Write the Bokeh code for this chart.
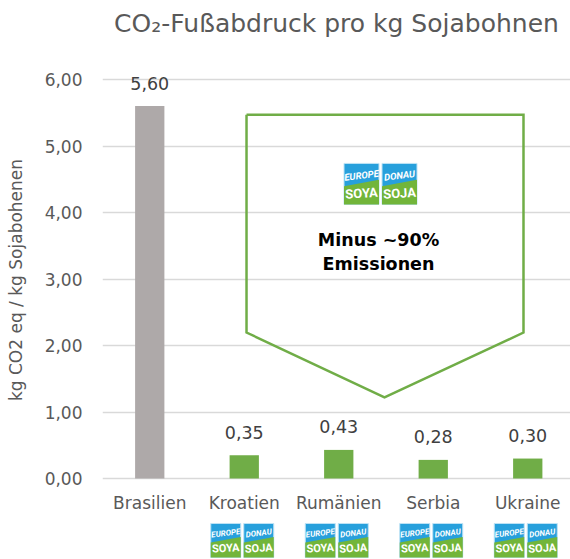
from bokeh.plotting import figure
from bokeh.models import Range1d, FixedTicker, CustomJSTickFormatter
from bokeh.core.properties import value
from bokeh.embed import file_html
from bokeh.resources import INLINE

# ---------------- data ----------------
categories = ["Brasilien", "Kroatien", "Rumänien", "Serbia", "Ukraine"]
footprint = [5.60, 0.35, 0.43, 0.28, 0.30]
bar_colors = ["#AEA9A9", "#70AD47", "#70AD47", "#70AD47", "#70AD47"]
y_ticks = [0, 1, 2, 3, 4, 5, 6]
title_text = "CO\u2082-Fußabdruck pro kg Sojabohnen"
y_label = "kg CO2 eq / kg Sojabohenen"
callout_text = "Minus ~90%\nEmissionen"
# callout arrow outline (category units, kg CO2 eq)
arrow_x = [1.524, 4.455, 4.455, 2.984, 1.524, 1.524]
arrow_y = [5.47, 5.47, 2.195, 1.22, 2.195, 5.47]
logo_words = [("EUROPE", "SOYA"), ("DONAU", "SOJA")]
logo_categories = ["Kroatien", "Rumänien", "Serbia", "Ukraine"]

# ---------------- layout ----------------
W, H = 570, 559
LEFT = 102
FRAME_W = W - LEFT
FRAME_H = H
X_END = FRAME_W / 94.5
Y_START, Y_END = -1.218, 7.188
XPX = X_END / FRAME_W
YPX = (Y_END - Y_START) / FRAME_H

FONT = value("DejaVu Sans")
GREY_TXT = "#595959"
BLUE = "#27A0DC"
GREEN = "#72B53A"
LOGO_FONT = value("Roboto")

xs = [i + 0.5 for i in range(len(categories))]

p = figure(width=W, height=H, x_range=Range1d(0, X_END), y_range=Range1d(Y_START, Y_END),
           output_backend="svg", toolbar_location=None, x_axis_location=None,
           min_border_left=LEFT, min_border_right=0, min_border_top=0, min_border_bottom=0)
p.outline_line_color = None
p.background_fill_color = "white"
p.xgrid.visible = False
p.ygrid.ticker = FixedTicker(ticks=y_ticks)
p.ygrid.grid_line_color = "#D9D9D9"
p.ygrid.grid_line_width = 1.3

ax = p.yaxis[0]
ax.ticker = FixedTicker(ticks=y_ticks)
ax.formatter = CustomJSTickFormatter(code="return tick.toFixed(2).replace('.', ',');")
ax.axis_line_color = None
ax.major_tick_line_color = None
ax.minor_tick_line_color = None
ax.major_tick_out = 0
ax.major_tick_in = 0
ax.minor_tick_out = 0
ax.minor_tick_in = 0
ax.major_label_standoff = 20
ax.major_label_text_font = "DejaVu Sans"
ax.major_label_text_font_size = "17px"
ax.major_label_text_color = GREY_TXT
ax.axis_label = y_label
ax.axis_label_text_font = "DejaVu Sans"
ax.axis_label_text_font_size = "17px"
ax.axis_label_text_font_style = "normal"
ax.axis_label_text_color = GREY_TXT
ax.axis_label_standoff = 16

# bars
p.vbar(x=xs, top=footprint, width=0.31, color=bar_colors, line_color=None)

# value labels
p.text(x=xs, y=footprint, text=[f"{v:.2f}".replace(".", ",") for v in footprint],
       text_font=FONT, text_font_size="17.5px", text_color="#404040",
       text_align="center", text_baseline="middle", y_offset=-23)

# category labels
p.text(x=xs, y=[-0.361] * len(xs), text=categories,
       text_font=FONT, text_font_size="17px", text_color=GREY_TXT,
       text_align="center", text_baseline="middle")

# title
p.text(x=[2.476], y=[6.842], text=[title_text], text_font=FONT, text_font_size="25px",
       text_color=GREY_TXT, text_align="center", text_baseline="middle")

# callout arrow
p.line(arrow_x, arrow_y, line_color="#70AD47", line_width=2.5, line_join="miter")
p.text(x=[2.921], y=[3.403], text=[callout_text], text_font=FONT, text_font_size="17.5px",
       text_font_style="bold", text_color="black", text_align="center",
       text_baseline="middle", text_line_height=1.2)

# logos
quads = dict(l=[], r=[], t=[], b=[])
gxs, gys = [], []
tt = dict(x=[], y=[], text=[], size=[])
bt = dict(x=[], y=[], text=[], size=[])


def add_logo(cx, cy, sw, sh, gap, fs_top, fs_bot):
    for k, (top_word, bot_word) in enumerate(logo_words):
        sgn = -1 if k == 0 else 1
        scx = cx + sgn * (sw / 2 + gap / 2) * XPX
        l = scx - sw / 2 * XPX
        r = scx + sw / 2 * XPX
        t = cy + sh / 2 * YPX
        b = cy - sh / 2 * YPX
        quads["l"].append(l); quads["r"].append(r); quads["t"].append(t); quads["b"].append(b)
        gxs.append([l, r, r, l])
        gys.append([b, b, t - 0.40 * sh * YPX, t - 0.56 * sh * YPX])
        tt["x"].append(scx); tt["y"].append(t - 0.29 * sh * YPX)
        tt["text"].append(top_word); tt["size"].append(f"{fs_top}px")
        bt["x"].append(scx); bt["y"].append(b + 0.27 * sh * YPX)
        bt["text"].append(bot_word); bt["size"].append(f"{fs_bot}px")


add_logo((380 - LEFT) * XPX, 4.43, 35, 41, 3, 9.5, 13)
for c in logo_categories:
    i = categories.index(c)
    add_logo(xs[i] - 2 * XPX, -0.932, 30, 34, 3, 8, 11)

p.quad(left=quads["l"], right=quads["r"], top=quads["t"], bottom=quads["b"],
       color=BLUE, line_color="#BFE3F5", line_width=1)
p.patches(gxs, gys, color=GREEN, line_color=None)
p.text(x=tt["x"], y=tt["y"], text=tt["text"], text_font_size=tt["size"],
       text_font=LOGO_FONT, text_font_style="bold italic",
       text_color="white", text_align="center", text_baseline="middle", angle=0.12)
p.text(x=bt["x"], y=bt["y"], text=bt["text"], text_font_size=bt["size"],
       text_font=LOGO_FONT, text_font_style="bold",
       text_color="white", text_align="center", text_baseline="middle", angle=0.06)

open("out.html", "w").write(file_html(p, INLINE))
